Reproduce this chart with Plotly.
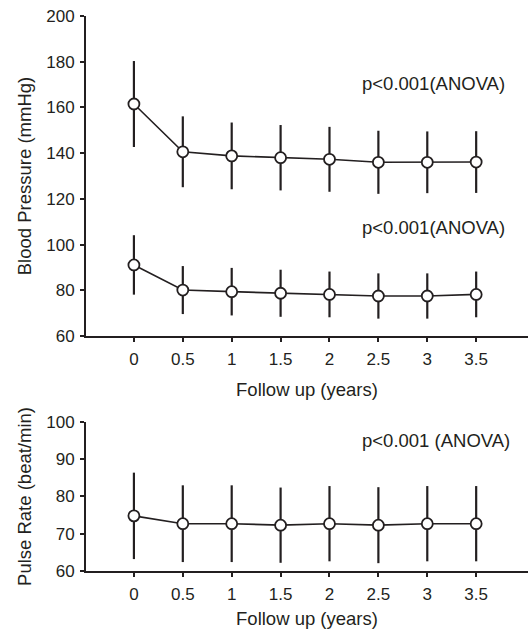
import plotly.graph_objects as go

# ---- data ----
years = [0, 0.5, 1, 1.5, 2, 2.5, 3, 3.5]
tick_labels = ["0", "0.5", "1", "1.5", "2", "2.5", "3", "3.5"]

sbp_mean = [161.5, 140.6, 138.8, 138.0, 137.3, 136.0, 136.0, 136.1]
sbp_sd = [18.8, 15.5, 14.6, 14.3, 14.2, 13.8, 13.5, 13.5]

dbp_mean = [91.1, 80.1, 79.4, 78.7, 78.2, 77.5, 77.5, 78.2]
dbp_sd = [13.0, 10.5, 10.4, 10.3, 10.0, 9.9, 9.9, 10.0]

pulse_mean = [74.8, 72.7, 72.7, 72.3, 72.7, 72.3, 72.7, 72.7]
pulse_sd = [11.6, 10.3, 10.3, 10.1, 10.1, 10.2, 10.1, 10.1]

bp_ticks = [60, 80, 100, 120, 140, 160, 180, 200]
pulse_ticks = [60, 70, 80, 90, 100]

INK = "#231f20"
FONT = "Liberation Sans, Arial, Helvetica, sans-serif"
FS_TICK = 17
FS_TEXT = 18.5

fig = go.Figure()


def add_series(x, y, sd, xa, ya):
    fig.add_trace(go.Scatter(
        x=x, y=y, mode="lines", xaxis=xa, yaxis=ya,
        line=dict(color=INK, width=1.6),
        error_y=dict(type="data", array=sd, visible=True, width=0,
                     thickness=2.2, color=INK),
        showlegend=False, hoverinfo="skip"))
    fig.add_trace(go.Scatter(
        x=x, y=y, mode="markers", xaxis=xa, yaxis=ya,
        marker=dict(symbol="circle", size=11, color="white",
                    line=dict(color=INK, width=1.8)),
        showlegend=False))


add_series(years, sbp_mean, sbp_sd, "x", "y")
add_series(years, dbp_mean, dbp_sd, "x", "y")
add_series(years, pulse_mean, pulse_sd, "x2", "y2")

axis_common = dict(
    showgrid=False, zeroline=False, showline=True, linecolor=INK, linewidth=1.8,
    ticks="outside", ticklen=4, tickwidth=1.8, tickcolor=INK, automargin=False,
    tickfont=dict(family=FONT, size=FS_TICK, color=INK),
)
title_font = dict(family=FONT, size=FS_TEXT, color=INK)

xrange = [-0.49, 4.03]

fig.update_layout(
    width=528, height=632,
    margin=dict(l=86, r=0, t=16, b=61),
    paper_bgcolor="white", plot_bgcolor="white",
    font=dict(family=FONT, size=FS_TICK, color=INK),
    xaxis=dict(domain=[0, 1], anchor="y", range=xrange,
               tickmode="array", tickvals=years, ticktext=tick_labels,
               ticklabelstandoff=3,
               title=dict(text="Follow up (years)", standoff=15, font=title_font),
               **axis_common),
    yaxis=dict(domain=[0.4234, 1], anchor="x", range=[60, 200],
               tickmode="array", tickvals=bp_ticks, ticklabelstandoff=2,
               title=dict(text="Blood Pressure (mmHg)", standoff=10, font=title_font),
               **axis_common),
    xaxis2=dict(domain=[0, 1], anchor="y2", range=xrange,
                tickmode="array", tickvals=years, ticktext=tick_labels,
                ticklabelstandoff=3,
                title=dict(text="Follow up (years)", standoff=9, font=title_font),
                **axis_common),
    yaxis2=dict(domain=[0, 0.2685], anchor="x2", range=[60, 100],
                tickmode="array", tickvals=pulse_ticks, ticklabelstandoff=2,
                title=dict(text="Pulse Rate (beat/min)", standoff=10, font=title_font),
                **axis_common),
    annotations=[
        dict(text="p<0.001(ANOVA)", x=3.82, y=170.3, xref="x", yref="y",
             xanchor="right", yanchor="middle", showarrow=False, font=title_font),
        dict(text="p<0.001(ANOVA)", x=3.82, y=107.4, xref="x", yref="y",
             xanchor="right", yanchor="middle", showarrow=False, font=title_font),
        dict(text="p<0.001 (ANOVA)", x=3.87, y=95.0, xref="x2", yref="y2",
             xanchor="right", yanchor="middle", showarrow=False, font=title_font),
    ],
)

fig.write_html("out.html", config={"displayModeBar": False},
               post_script="document.body.style.margin='0';")
